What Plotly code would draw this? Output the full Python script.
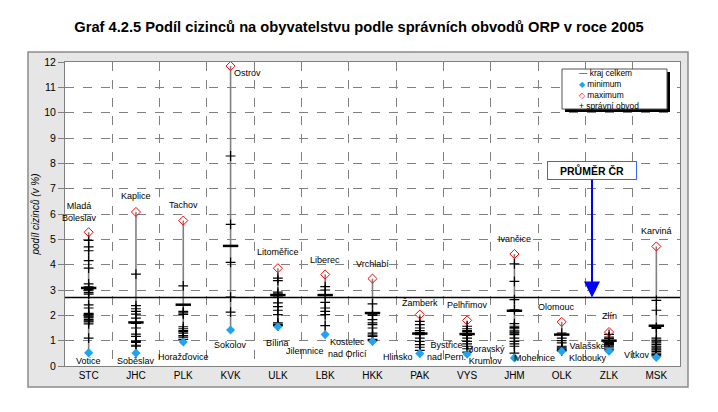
import plotly.graph_objects as go

# kraje (regiony) v pořadí osy x
regions = ["STC", "JHC", "PLK", "KVK", "ULK", "LBK", "HKK", "PAK", "VYS", "JHM", "OLK", "ZLK", "MSK"]

# maximum v kraji (název ORP, podíl v %)
max_names = ["Mladá<br>Boleslav", "Kaplice", "Tachov", "Ostrov", "Litoměřice", "Liberec", "Vrchlabí",
             "Žamberk", "Pelhřimov", "Ivančice", "Olomouc", "Zlín", "Karviná"]
max_values = [5.28, 6.08, 5.74, 11.84, 3.86, 3.61, 3.45, 2.03, 1.80, 4.42, 1.74, 1.34, 4.72]

# minimum v kraji
min_names = ["Votice", "Soběslav", "Horažďovice", "Sokolov", "Bílina", "Jilemnice", "Kostelec<br>nad Orlicí",
             "Hlinsko", "Bystřice<br>nad Pern.", "Moravský<br>Krumlov", "Mohelnice", "Valašské<br>Klobouky", "Vítkov"]
min_values = [0.52, 0.51, 0.95, 1.42, 1.55, 1.24, 0.97, 0.49, 0.47, 0.32, 0.58, 0.58, 0.34]

# kraj celkem
region_totals = [3.08, 1.72, 2.42, 4.74, 2.80, 2.80, 2.09, 1.28, 1.26, 2.18, 1.24, 1.00, 1.59]

# ostatní správní obvody
districts = [
    [4.96, 4.70, 4.55, 4.16, 3.86, 3.24, 3.12, 3.02, 2.97, 2.90, 2.84, 2.41, 2.29, 2.08, 2.04, 2.03,
     1.98, 1.94, 1.90, 1.83, 1.78, 1.74, 1.66, 1.10],
    [3.63, 2.38, 2.26, 2.16, 2.05, 1.89, 1.68, 1.50, 1.26, 1.17, 0.99, 0.96, 0.93, 0.82, 0.78],
    [3.16, 2.16, 2.10, 2.04, 1.55, 1.47, 1.40, 1.36, 1.30, 1.20, 1.14, 1.05],
    [8.29, 5.59, 4.09, 2.72, 2.13],
    [3.47, 3.37, 2.92, 2.85, 2.72, 2.49, 2.34, 2.20, 2.03, 1.70, 1.64, 1.60, 1.58],
    [3.13, 3.00, 2.82, 2.51, 2.29, 2.16, 2.03, 1.59],
    [2.45, 2.05, 2.00, 1.83, 1.70, 1.63, 1.50, 1.30, 1.22, 1.17, 1.05, 1.00],
    [1.76, 1.63, 1.50, 1.40, 1.32, 1.24, 1.10, 0.97, 0.84, 0.74, 0.62],
    [1.57, 1.47, 1.40, 1.37, 1.30, 1.21, 1.10, 0.97, 0.87, 0.78, 0.68, 0.55],
    [4.03, 3.34, 2.62, 2.22, 1.67, 1.57, 1.52, 1.47, 1.39, 1.34, 1.30, 1.24, 1.10, 0.97, 0.87, 0.78, 0.51],
    [1.30, 1.10, 1.00, 0.91, 0.78, 0.74, 0.70, 0.66, 0.62, 0.60],
    [1.25, 1.14, 1.08, 0.93, 0.88, 0.84, 0.80, 0.76, 0.71, 0.64],
    [2.59, 2.20, 1.52, 1.48, 1.10, 1.02, 0.98, 0.91, 0.84, 0.78, 0.74, 0.68, 0.64, 0.58, 0.51, 0.45, 0.40],
]

cr_average = 2.7

# posuny popisků v pixelech (xshift, yshift)
max_label_shift = [(-9, 20), (0, 16), (0, 16), (17, -7), (0, 16), (0, 15), (0, 15),
                   (0, 12), (0, 15), (0, 15), (-5, 15), (0, 16), (0, 15)]
min_label_shift = [(0, -8), (0, -8), (0, -15), (0, -15), (0, -16), (-20, -16), (-25, -7),
                   (-22, -3), (-21, 3), (-29, 3), (-27, -7), (-21, -1), (-19, 2)]

FONT = "Arial, Liberation Sans, sans-serif"
# stránka má okraj 8 px, graf proto posouváme doleva nahoru
OFF = 8
W, H = 718 - OFF, 412 - OFF
ML, MT = 65 - OFF, 62 - OFF
MR, MB = W - (680 - OFF), H - (366 - OFF)
PW, PH = W - ML - MR, H - MT - MB


def px_x(p):
    # p = pixel v okně prohlížeče
    return (p - OFF - ML) / PW


def px_y(p):
    return (H - MB - (p - OFF)) / PH


idx = list(range(len(regions)))
fig = go.Figure()

# svislé čáry min-max
lx, ly = [], []
for i in idx:
    lx += [i, i, None]
    ly += [min_values[i], max_values[i], None]
fig.add_trace(go.Scatter(x=lx, y=ly, mode="lines", line=dict(color="#808080", width=1.6),
                         hoverinfo="skip", showlegend=False))

dx, dy = [], []
for i in idx:
    dx += [i] * len(districts[i])
    dy += districts[i]
fig.add_trace(go.Scatter(x=dx, y=dy, mode="markers", showlegend=False,
                         marker=dict(symbol="cross-thin", size=7, line=dict(color="black", width=1.2))))
fig.add_trace(go.Scatter(x=idx, y=region_totals, mode="markers", showlegend=False,
                         marker=dict(symbol="line-ew", size=11, line=dict(color="black", width=2.5))))
fig.add_trace(go.Scatter(x=idx, y=max_values, mode="markers", showlegend=False,
                         marker=dict(symbol="diamond-open", size=7, color="red", line=dict(color="red", width=1))))
fig.add_trace(go.Scatter(x=idx, y=min_values, mode="markers", showlegend=False,
                         marker=dict(symbol="diamond", size=7, color="#1fa4f4", line=dict(width=0))))

fig.add_hline(y=cr_average, line=dict(color="black", width=1.5))

# popisky max/min
for i in idx:
    fig.add_annotation(x=i, y=max_values[i], text=max_names[i], showarrow=False,
                       xshift=max_label_shift[i][0], yshift=max_label_shift[i][1],
                       font=dict(size=9, color="black", family=FONT))
    fig.add_annotation(x=i, y=min_values[i], text=min_names[i], showarrow=False,
                       xshift=min_label_shift[i][0], yshift=min_label_shift[i][1],
                       font=dict(size=9, color="black", family=FONT))

# PRŮMĚR ČR
fig.add_annotation(x=10.64, y=cr_average, text="<b>PRŮMĚR ČR</b>", showarrow=True,
                   ax=0, ay=-127, arrowcolor="blue", arrowwidth=2, arrowhead=2, arrowsize=1.6,
                   bordercolor="#3366ff", borderwidth=1, bgcolor="white", borderpad=2,
                   width=84, font=dict(size=10.5, color="black", family=FONT))

# rámeček grafu
fig.add_shape(type="rect", xref="paper", yref="paper", layer="below",
              x0=px_x(28), x1=px_x(688), y0=px_y(387), y1=px_y(52),
              fillcolor="#e6e6e6", line=dict(color="#8c8c8c", width=1.5))
fig.add_shape(type="rect", xref="paper", yref="paper", layer="below",
              x0=0, x1=1, y0=0, y1=1, fillcolor="white", line=dict(width=0))

# legenda
fig.add_shape(type="rect", xref="paper", yref="paper", layer="above",
              x0=px_x(565), x1=px_x(670), y0=px_y(112), y1=px_y(72),
              fillcolor="black", line=dict(width=0))
fig.add_shape(type="rect", xref="paper", yref="paper", layer="above",
              x0=px_x(562), x1=px_x(667), y0=px_y(109), y1=px_y(69),
              fillcolor="white", line=dict(color="#555555", width=1))
legend_rows = ["— kraj celkem",
               "<span style='color:#1fa4f4'>◆</span> minimum",
               "<span style='color:red'>◇</span> maximum",
               "+ správní obvod"]
fig.add_annotation(xref="paper", yref="paper", x=px_x(577), y=px_y(89.5),
                   xanchor="left", yanchor="middle", align="left", text="<br>".join(legend_rows),
                   showarrow=False, font=dict(size=8.4, color="black", family=FONT))

fig.update_layout(
    width=W, height=H,
    margin=dict(l=ML, r=MR, t=MT, b=MB),
    paper_bgcolor="white", plot_bgcolor="white",
    font=dict(family=FONT, color="black"),
    title=dict(text="<b>Graf 4.2.5 Podíl cizinců na obyvatelstvu podle správních obvodů ORP v roce 2005</b>",
               x=(359 - OFF) / W, xanchor="center", y=1 - (27 - OFF) / H, yanchor="middle",
               font=dict(size=14.7, family=FONT, color="black")),
)
fig.update_xaxes(range=[-0.5, len(regions) - 0.5], tickvals=idx, ticktext=regions,
                 showgrid=False, zeroline=False, ticks="", tickfont=dict(size=10),
                 showline=True, linecolor="#808080", mirror=True,
                 minor=dict(tickvals=[i + 0.5 for i in idx[:-1]], showgrid=True,
                            gridcolor="#808080", griddash="dash", gridwidth=1))
fig.update_yaxes(range=[0, 12], dtick=1, showgrid=True, gridcolor="#808080", griddash="dash",
                 zeroline=False, ticks="outside", ticklen=6, tickcolor="#808080",
                 showline=True, linecolor="#808080", mirror=True, tickfont=dict(size=10.5),
                 title=dict(text="<i>podíl cizinců (v %)</i>", font=dict(size=10), standoff=2))

fig.write_html("out.html")
